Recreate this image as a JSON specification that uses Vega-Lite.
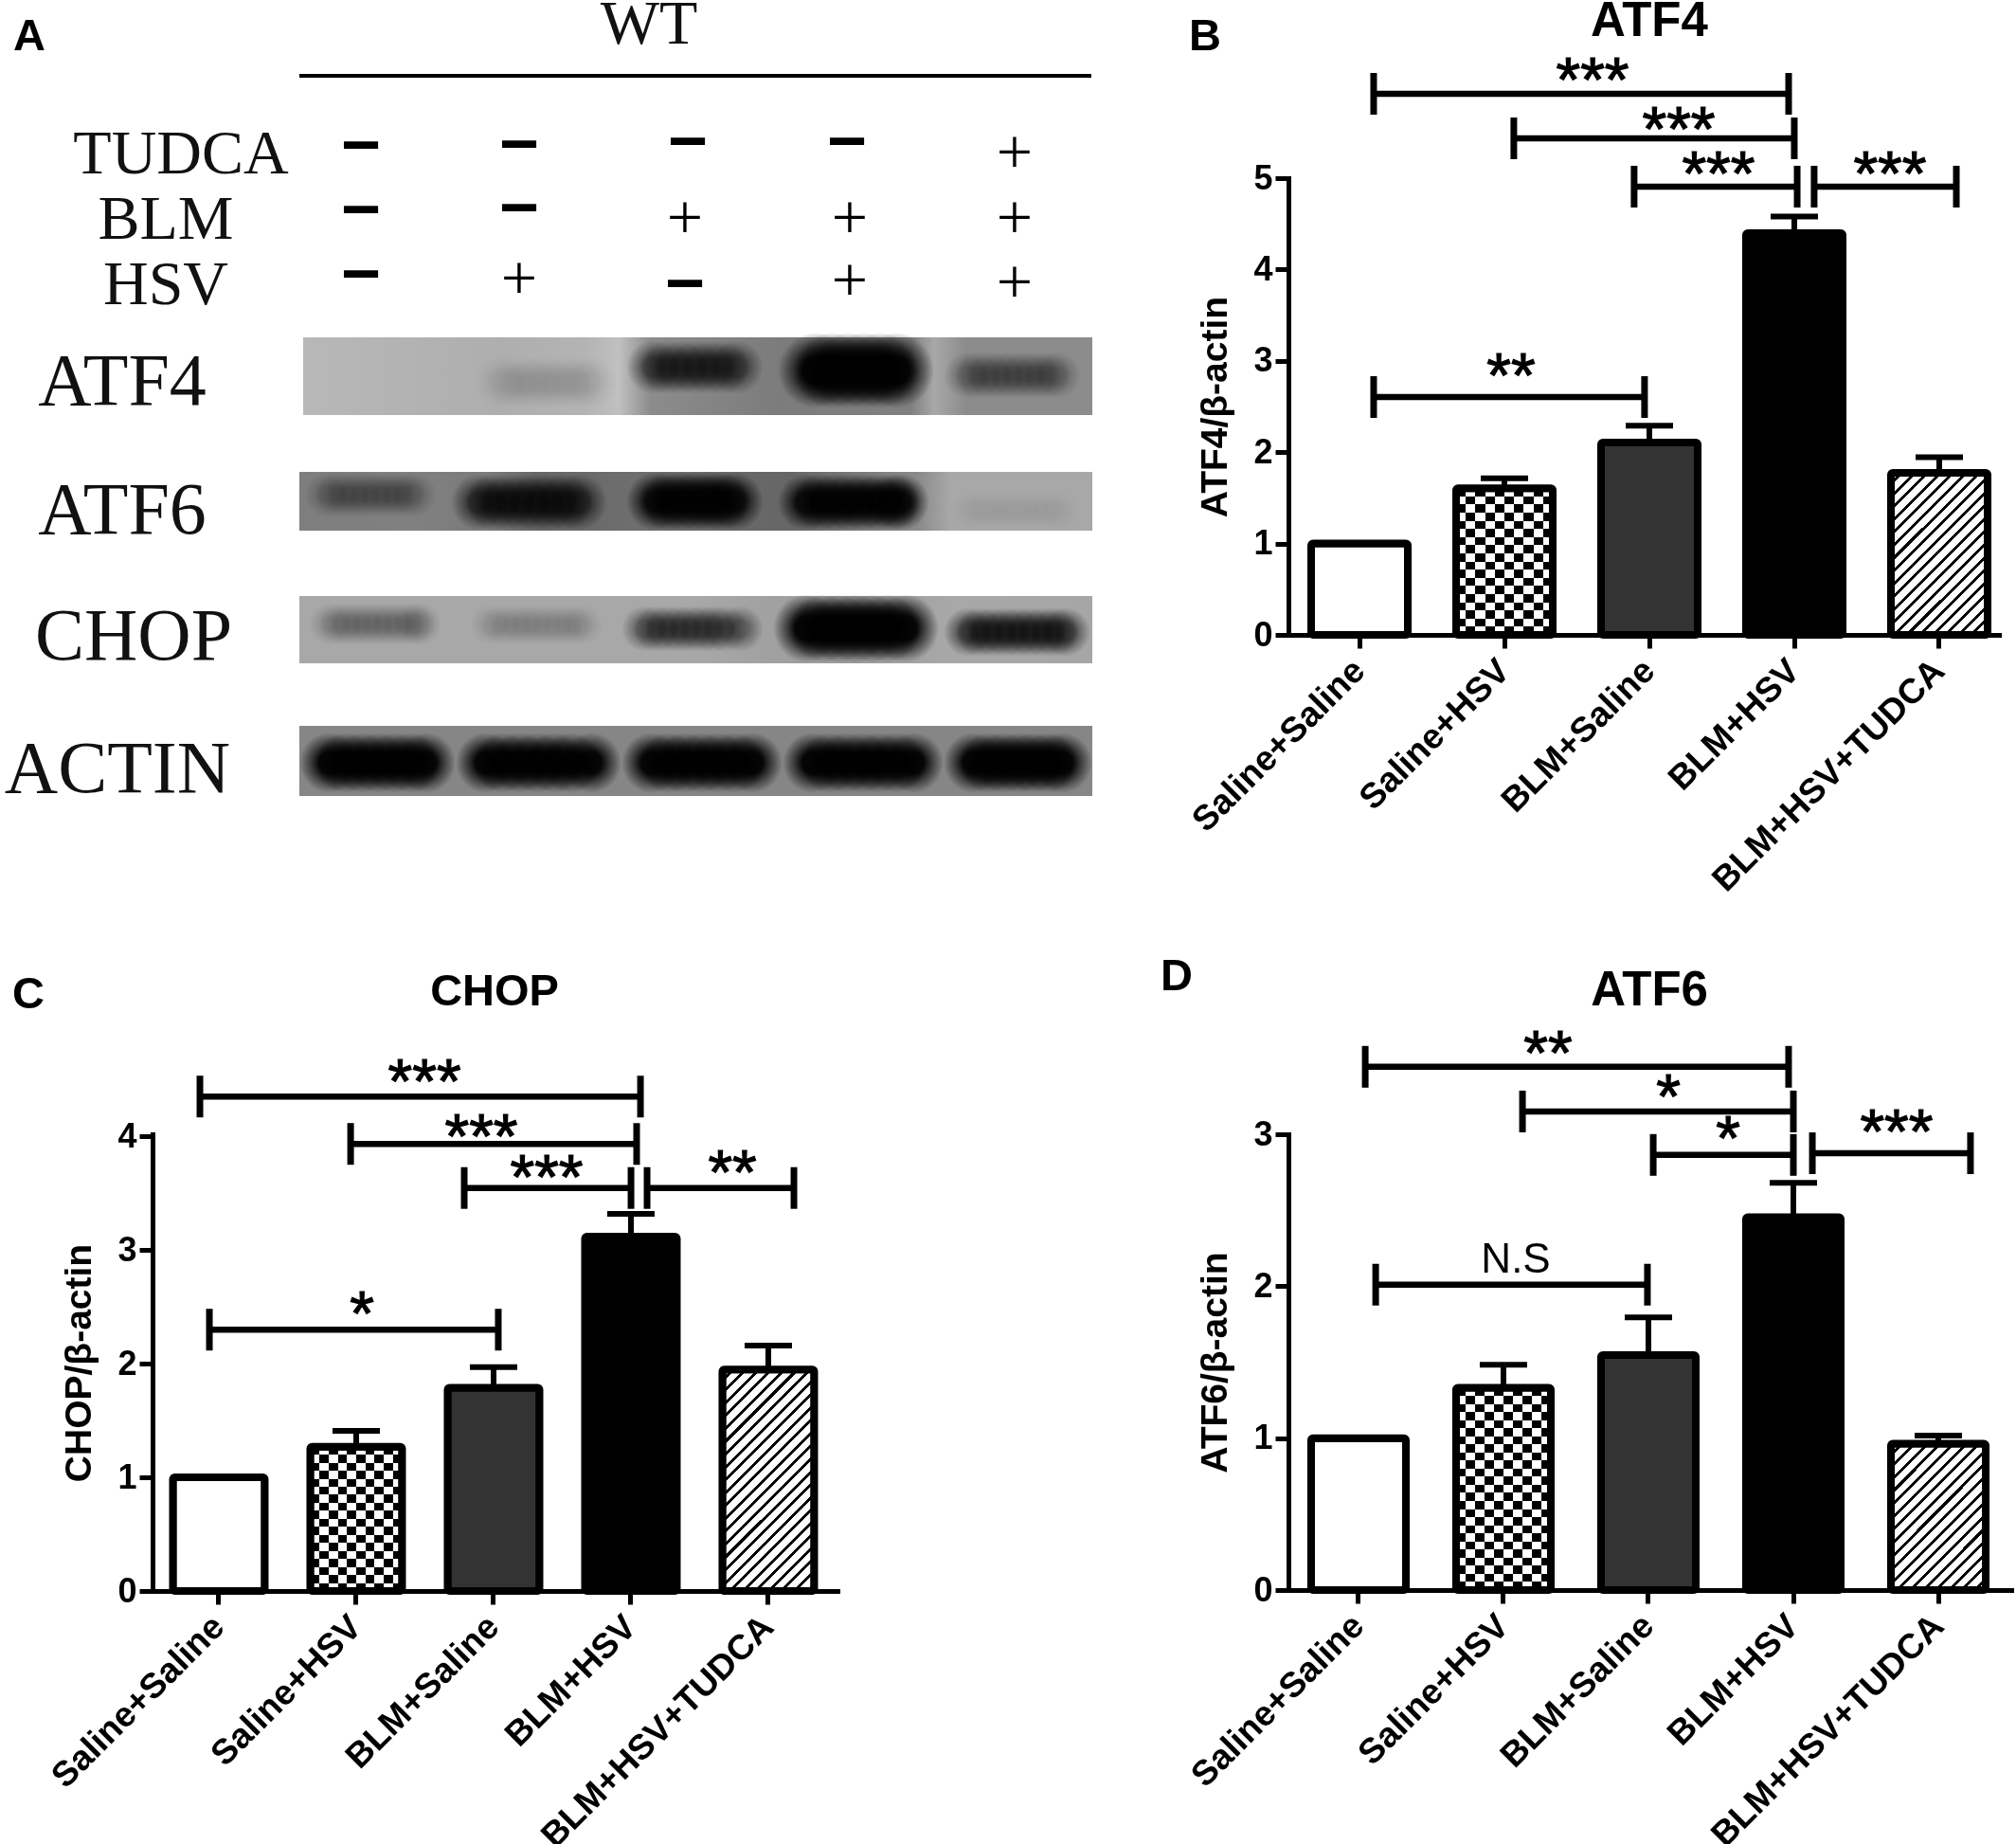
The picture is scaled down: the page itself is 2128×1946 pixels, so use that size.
{"$schema":"https://vega.github.io/schema/vega-lite/v6.json","background":"white","padding":{"left":4,"top":-7,"right":0,"bottom":0},"bounds":"flush","columns":2,"spacing":{"row":527,"column":0},
"config":{"view":{"stroke":null},"axis":{"grid":false,"domainColor":"#000","tickColor":"#000","labelColor":"#000","titleColor":"#000","labelFont":"Liberation Sans","titleFont":"Liberation Sans","labelFontWeight":"bold","titleFontWeight":"bold","labelFontSize":36,"titleFontSize":39,"domainWidth":5,"tickWidth":5,"tickSize":14,"domainCap":"square"}},
"datasets":{
"blot_bg":[{"strip":"ATF4","x1":1.59,"x2":9.92,"y1":1.68,"y2":2.5},{"strip":"ATF6","x1":1.55,"x2":9.92,"y1":3.1,"y2":3.72},{"strip":"CHOP","x1":1.55,"x2":9.92,"y1":4.41,"y2":5.12},{"strip":"ACTIN","x1":1.55,"x2":9.92,"y1":5.78,"y2":6.52}],
"blot_bands":[
{"y":2.155,"thick":0.55,"level":0.07,"xs":[3.675,3.81,3.95,4.08,4.22,4.35,4.49,4.625]},
{"y":1.995,"thick":0.57,"level":0.5,"xs":[5.285,5.43,5.58,5.725,5.87,6.02,6.165]},
{"y":2.03,"thick":0.8,"level":0.95,"xs":[7.0,7.17,7.34,7.51,7.68,7.85]},
{"y":2.08,"thick":0.5,"level":0.25,"xs":[8.6,8.72,8.84,8.96,9.08,9.2,9.32,9.44,9.55]},
{"y":3.34,"thick":0.48,"level":0.2,"xs":[1.84,1.955,2.07,2.185,2.3,2.415,2.53,2.645,2.76]},
{"y":3.42,"thick":0.6,"level":0.6,"xs":[3.45,3.6,3.75,3.9,4.05,4.2,4.35,4.5]},
{"y":3.41,"thick":0.62,"level":0.85,"xs":[5.31,5.45,5.59,5.73,5.87,6.0,6.14]},
{"y":3.42,"thick":0.6,"level":0.85,"xs":[6.9,7.05,7.2,7.35,7.5,7.65,7.8,7.9]},
{"y":3.51,"thick":0.42,"level":0.03,"xs":[8.61,8.72,8.83,8.94,9.05,9.16,9.27,9.38,9.49,9.59]},
{"y":4.705,"thick":0.45,"level":0.17,"xs":[1.875,1.99,2.1,2.21,2.32,2.43,2.54,2.65,2.76,2.825]},
{"y":4.715,"thick":0.43,"level":0.1,"xs":[3.565,3.68,3.79,3.9,4.0,4.11,4.22,4.33,4.44,4.535]},
{"y":4.755,"thick":0.49,"level":0.4,"xs":[5.195,5.32,5.44,5.56,5.68,5.8,5.92,6.04,6.205]},
{"y":4.75,"thick":0.72,"level":0.95,"xs":[6.91,7.08,7.25,7.42,7.59,7.76,7.94]},
{"y":4.79,"thick":0.52,"level":0.55,"xs":[8.61,8.74,8.87,9.0,9.13,9.26,9.39,9.52,9.64]},
{"y":6.17,"thick":0.64,"level":0.95,"xs":[1.87,2.04,2.21,2.38,2.55,2.72,2.88]},
{"y":6.17,"thick":0.64,"level":0.95,"xs":[3.52,3.7,3.88,4.06,4.24,4.42,4.63]},
{"y":6.17,"thick":0.64,"level":0.95,"xs":[5.27,5.45,5.62,5.8,5.97,6.15,6.33]},
{"y":6.17,"thick":0.64,"level":0.95,"xs":[6.97,7.15,7.32,7.5,7.67,7.85,8.03]},
{"y":6.17,"thick":0.64,"level":0.95,"xs":[8.67,8.83,8.98,9.14,9.29,9.45,9.6]}],
"blot_signs":[{"sign":"−","x":2.2,"y":-0.33},{"sign":"−","x":3.87,"y":-0.34},{"sign":"−","x":5.65,"y":-0.37},{"sign":"−","x":7.33,"y":-0.37},{"sign":"+","x":9.1,"y":-0.25},
{"sign":"−","x":2.2,"y":0.35},{"sign":"−","x":3.87,"y":0.33},{"sign":"+","x":5.62,"y":0.44},{"sign":"+","x":7.36,"y":0.44},{"sign":"+","x":9.1,"y":0.44},
{"sign":"−","x":2.2,"y":1.03},{"sign":"+","x":3.87,"y":1.08},{"sign":"−","x":5.62,"y":1.13},{"sign":"+","x":7.36,"y":1.1},{"sign":"+","x":9.1,"y":1.12}],
"blot_treatments":[{"label":"WT","x":5.24,"y":-1.42},{"label":"TUDCA","x":0.3,"y":-0.05},{"label":"BLM","x":0.14,"y":0.64},{"label":"HSV","x":0.14,"y":1.33}],
"blot_proteins":[{"label":"ATF4","x":-0.32,"y":2.39},{"label":"ATF6","x":-0.32,"y":3.75},{"label":"CHOP","x":-0.2,"y":5.08},{"label":"ACTIN","x":-0.37,"y":6.48}],
"atf4_bars":[{"group":"Saline+Saline","value":1},{"group":"Saline+HSV","value":1.606,"upper":1.713},{"group":"BLM+Saline","value":2.106,"upper":2.29},{"group":"BLM+HSV","value":4.398,"upper":4.58},{"group":"BLM+HSV+TUDCA","value":1.773,"upper":1.944}],
"chop_bars":[{"group":"Saline+Saline","value":1},{"group":"Saline+HSV","value":1.27,"upper":1.41},{"group":"BLM+Saline","value":1.79,"upper":1.97},{"group":"BLM+HSV","value":3.12,"upper":3.32},{"group":"BLM+HSV+TUDCA","value":1.95,"upper":2.16}],
"atf6_bars":[{"group":"Saline+Saline","value":1},{"group":"Saline+HSV","value":1.332,"upper":1.483},{"group":"BLM+Saline","value":1.547,"upper":1.795},{"group":"BLM+HSV","value":2.454,"upper":2.68},{"group":"BLM+HSV+TUDCA","value":0.963,"upper":1.016}],
"atf4_brackets":[{"x1":0.098,"x2":2.961,"y":5.923,"label":"***","lx":1.608,"ly":6.11},{"x1":1.065,"x2":3.0,"y":5.436,"label":"***","lx":2.203,"ly":5.57},{"x1":1.895,"x2":3.02,"y":4.907,"label":"***","lx":2.477,"ly":5.083},{"x1":3.137,"x2":4.118,"y":4.907,"label":"***","lx":3.66,"ly":5.083},{"x1":0.098,"x2":1.967,"y":2.604,"label":"**","lx":1.046,"ly":2.873}],
"chop_brackets":[{"x1":-0.138,"x2":3.069,"y":4.352,"label":"***","lx":1.497,"ly":4.513},{"x1":0.959,"x2":3.041,"y":3.935,"label":"***","lx":1.91,"ly":4.025},{"x1":1.786,"x2":3.0,"y":3.547,"label":"***","lx":2.386,"ly":3.673},{"x1":3.117,"x2":4.186,"y":3.547,"label":"**","lx":3.738,"ly":3.708},{"x1":-0.069,"x2":2.034,"y":2.3,"label":"*","lx":1.041,"ly":2.465}],
"atf6_brackets":[{"x1":0.046,"x2":2.967,"y":3.444,"label":"**","lx":1.307,"ly":3.553},{"x1":1.131,"x2":3.0,"y":3.15,"label":"*","lx":2.137,"ly":3.27},{"x1":2.033,"x2":3.0,"y":2.864,"label":"*","lx":2.549,"ly":2.992},{"x1":3.131,"x2":4.222,"y":2.875,"label":"***","lx":3.712,"ly":3.037},{"x1":0.118,"x2":1.993,"y":2.01}],
"atf6_ns":[{"label":"N.S","lx":1.085,"ly":2.17}]
},
"concat":[
{"width":1199,"height":482,"layer":[
{"data":{"name":"blot_bg"},"transform":[{"filter":"datum.strip === 'ATF4'"}],"mark":{"type":"rect","color":{"gradient":"linear","x1":0,"y1":0,"x2":1,"y2":0,"stops":[{"offset":0,"color":"#b8b8b8"},{"offset":0.25,"color":"#aeaeae"},{"offset":0.36,"color":"#b4b4b4"},{"offset":0.4,"color":"#c0c0c0"},{"offset":0.44,"color":"#8c8c8c"},{"offset":0.6,"color":"#7c7c7c"},{"offset":0.77,"color":"#808080"},{"offset":0.8,"color":"#a8a8a8"},{"offset":0.84,"color":"#8c8c8c"},{"offset":1,"color":"#8c8c8c"}]}},"encoding":{"x":{"field":"x1","type":"quantitative","scale":{"domain":[0,11.99],"nice":false,"zero":false},"axis":null},"x2":{"field":"x2"},"y":{"field":"y1","type":"quantitative","scale":{"domain":[0,4.82],"nice":false,"zero":false,"reverse":true},"axis":null},"y2":{"field":"y2"}}},
{"data":{"name":"blot_bg"},"transform":[{"filter":"datum.strip === 'ATF6'"}],"mark":{"type":"rect","color":{"gradient":"linear","x1":0,"y1":0,"x2":1,"y2":0,"stops":[{"offset":0,"color":"#7e7e7e"},{"offset":0.15,"color":"#808080"},{"offset":0.24,"color":"#7a7a7a"},{"offset":0.3,"color":"#666666"},{"offset":0.42,"color":"#6e6e6e"},{"offset":0.62,"color":"#666666"},{"offset":0.78,"color":"#8a8a8a"},{"offset":0.82,"color":"#a8a8a8"},{"offset":1,"color":"#a8a8a8"}]}},"encoding":{"x":{"field":"x1","type":"quantitative"},"x2":{"field":"x2"},"y":{"field":"y1","type":"quantitative"},"y2":{"field":"y2"}}},
{"data":{"name":"blot_bg"},"transform":[{"filter":"datum.strip === 'CHOP'"}],"mark":{"type":"rect","color":{"gradient":"linear","x1":0,"y1":0,"x2":1,"y2":0,"stops":[{"offset":0,"color":"#a8a8a8"},{"offset":0.5,"color":"#a8a8a8"},{"offset":0.7,"color":"#999999"},{"offset":0.82,"color":"#a8a8a8"},{"offset":1,"color":"#a6a6a6"}]}},"encoding":{"x":{"field":"x1","type":"quantitative"},"x2":{"field":"x2"},"y":{"field":"y1","type":"quantitative"},"y2":{"field":"y2"}}},
{"data":{"name":"blot_bg"},"transform":[{"filter":"datum.strip === 'ACTIN'"}],"mark":{"type":"rect","color":"#868686"},"encoding":{"x":{"field":"x1","type":"quantitative"},"x2":{"field":"x2"},"y":{"field":"y1","type":"quantitative"},"y2":{"field":"y2"}}},
{"data":{"name":"blot_bands"},"transform":[{"flatten":["xs"],"as":["x"]}],"mark":{"type":"point","shape":"circle","filled":true,"stroke":null,"fill":{"gradient":"radial","x1":0.5,"y1":0.5,"r1":0,"x2":0.5,"y2":0.5,"r2":0.5,"stops":[{"offset":0,"color":"#000"},{"offset":0.35,"color":"#000"},{"offset":1,"color":"rgba(0,0,0,0)"}]}},"encoding":{"x":{"field":"x","type":"quantitative"},"y":{"field":"y","type":"quantitative"},"size":{"field":"thick","type":"quantitative","scale":{"type":"pow","exponent":2,"domain":[0,1],"range":[0,10000]},"legend":null},"opacity":{"field":"level","type":"quantitative","scale":null}}},
{"data":{"values":[{"x1":1.55,"x2":9.91,"y":-1.08}]},"mark":{"type":"rule","color":"#000","strokeWidth":4},"encoding":{"x":{"field":"x1","type":"quantitative"},"x2":{"field":"x2"},"y":{"field":"y","type":"quantitative"}}},
{"data":{"name":"blot_treatments"},"mark":{"type":"text","font":"Liberation Serif","fontSize":66,"color":"#111","align":"center","baseline":"alphabetic"},"encoding":{"x":{"field":"x","type":"quantitative"},"y":{"field":"y","type":"quantitative"},"text":{"field":"label"}}},
{"data":{"name":"blot_proteins"},"mark":{"type":"text","font":"Liberation Serif","fontSize":78,"color":"#111","align":"center","baseline":"alphabetic"},"encoding":{"x":{"field":"x","type":"quantitative"},"y":{"field":"y","type":"quantitative"},"text":{"field":"label"}}},
{"data":{"name":"blot_signs"},"transform":[{"filter":"datum.sign === '+'"}],"mark":{"type":"text","font":"Liberation Serif","fontSize":68,"color":"#000","align":"center","baseline":"middle"},"encoding":{"x":{"field":"x","type":"quantitative"},"y":{"field":"y","type":"quantitative"},"text":{"field":"sign"}}},
{"data":{"name":"blot_signs"},"transform":[{"filter":"datum.sign !== '+'"}],"mark":{"type":"text","font":"Liberation Sans","fontWeight":"bold","fontSize":72,"color":"#000","align":"center","baseline":"middle"},"encoding":{"x":{"field":"x","type":"quantitative"},"y":{"field":"y","type":"quantitative"},"text":{"field":"sign"}}},
{"data":{"values":[{"panel":"A","x":-1.47,"y":-1.35}]},"mark":{"type":"text","font":"Liberation Sans","fontWeight":"bold","fontSize":47,"color":"#000","align":"left","baseline":"alphabetic"},"encoding":{"x":{"field":"x","type":"quantitative"},"y":{"field":"y","type":"quantitative"},"text":{"field":"panel"}}}
]},
{"width":750,"height":482,"resolve":{"scale":{"x":"independent"}},"layer":[
{"data":{"name":"atf4_bars"},"encoding":{"x":{"field":"group","type":"nominal","sort":null,"scale":{"paddingInner":0.333,"paddingOuter":0.1176,"align":0.667},"axis":{"title":null,"labelAngle":-45,"labelAlign":"right","labelBaseline":"middle","labelPadding":18,"labelLimit":0,"labelOverlap":false,"labelFontSize":37}},"y":{"field":"value","type":"quantitative","scale":{"domain":[0,5],"nice":false},"axis":{"title":"ATF4/β-actin","values":[0,1,2,3,4,5],"format":"d","labelPadding":3,"titlePadding":20}}},"layer":[
{"mark":{"type":"bar","cornerRadius":1},"encoding":{"fill":{"field":"group","type":"nominal","scale":{"domain":["Saline+Saline","Saline+HSV","BLM+Saline","BLM+HSV","BLM+HSV+TUDCA"],"range":["#ffffff","#ffffff","#333333","#000000","#ffffff"]},"legend":null}}},
{"transform":[{"filter":"datum.group === 'Saline+HSV'"}],"mark":{"type":"bar","color":{"gradient":"linear","x1":0,"y1":0,"x2":1,"y2":0,"stops":[{"offset":0,"color":"#fff"},{"offset":0.1,"color":"#fff"},{"offset":0.1,"color":"#000"},{"offset":0.2,"color":"#000"},{"offset":0.2,"color":"#fff"},{"offset":0.3,"color":"#fff"},{"offset":0.3,"color":"#000"},{"offset":0.4,"color":"#000"},{"offset":0.4,"color":"#fff"},{"offset":0.5,"color":"#fff"},{"offset":0.5,"color":"#000"},{"offset":0.6,"color":"#000"},{"offset":0.6,"color":"#fff"},{"offset":0.7,"color":"#fff"},{"offset":0.7,"color":"#000"},{"offset":0.8,"color":"#000"},{"offset":0.8,"color":"#fff"},{"offset":0.9,"color":"#fff"},{"offset":0.9,"color":"#000"},{"offset":1,"color":"#000"}]}}},
{"transform":[{"filter":"datum.group === 'Saline+HSV'"}],"mark":{"type":"bar","blend":"difference","color":{"gradient":"linear","x1":0,"y1":0,"x2":0,"y2":1,"stops":[{"offset":0,"color":"#fff"},{"offset":0.0556,"color":"#fff"},{"offset":0.0556,"color":"#000"},{"offset":0.1111,"color":"#000"},{"offset":0.1111,"color":"#fff"},{"offset":0.1667,"color":"#fff"},{"offset":0.1667,"color":"#000"},{"offset":0.2222,"color":"#000"},{"offset":0.2222,"color":"#fff"},{"offset":0.2778,"color":"#fff"},{"offset":0.2778,"color":"#000"},{"offset":0.3333,"color":"#000"},{"offset":0.3333,"color":"#fff"},{"offset":0.3889,"color":"#fff"},{"offset":0.3889,"color":"#000"},{"offset":0.4444,"color":"#000"},{"offset":0.4444,"color":"#fff"},{"offset":0.5,"color":"#fff"},{"offset":0.5,"color":"#000"},{"offset":0.5556,"color":"#000"},{"offset":0.5556,"color":"#fff"},{"offset":0.6111,"color":"#fff"},{"offset":0.6111,"color":"#000"},{"offset":0.6667,"color":"#000"},{"offset":0.6667,"color":"#fff"},{"offset":0.7222,"color":"#fff"},{"offset":0.7222,"color":"#000"},{"offset":0.7778,"color":"#000"},{"offset":0.7778,"color":"#fff"},{"offset":0.8333,"color":"#fff"},{"offset":0.8333,"color":"#000"},{"offset":0.8889,"color":"#000"},{"offset":0.8889,"color":"#fff"},{"offset":0.9444,"color":"#fff"},{"offset":0.9444,"color":"#000"},{"offset":1,"color":"#000"}]}}},
{"transform":[{"filter":"datum.group === 'BLM+HSV+TUDCA'"}],"mark":{"type":"bar","color":{"gradient":"linear","x1":0,"y1":0,"x2":0.873,"y2":1.464,"stops":[{"offset":0,"color":"#fff"},{"offset":0.028,"color":"#fff"},{"offset":0.028,"color":"#000"},{"offset":0.04,"color":"#000"},{"offset":0.04,"color":"#fff"},{"offset":0.068,"color":"#fff"},{"offset":0.068,"color":"#000"},{"offset":0.08,"color":"#000"},{"offset":0.08,"color":"#fff"},{"offset":0.108,"color":"#fff"},{"offset":0.108,"color":"#000"},{"offset":0.12,"color":"#000"},{"offset":0.12,"color":"#fff"},{"offset":0.148,"color":"#fff"},{"offset":0.148,"color":"#000"},{"offset":0.16,"color":"#000"},{"offset":0.16,"color":"#fff"},{"offset":0.188,"color":"#fff"},{"offset":0.188,"color":"#000"},{"offset":0.2,"color":"#000"},{"offset":0.2,"color":"#fff"},{"offset":0.228,"color":"#fff"},{"offset":0.228,"color":"#000"},{"offset":0.24,"color":"#000"},{"offset":0.24,"color":"#fff"},{"offset":0.268,"color":"#fff"},{"offset":0.268,"color":"#000"},{"offset":0.28,"color":"#000"},{"offset":0.28,"color":"#fff"},{"offset":0.308,"color":"#fff"},{"offset":0.308,"color":"#000"},{"offset":0.32,"color":"#000"},{"offset":0.32,"color":"#fff"},{"offset":0.348,"color":"#fff"},{"offset":0.348,"color":"#000"},{"offset":0.36,"color":"#000"},{"offset":0.36,"color":"#fff"},{"offset":0.388,"color":"#fff"},{"offset":0.388,"color":"#000"},{"offset":0.4,"color":"#000"},{"offset":0.4,"color":"#fff"},{"offset":0.428,"color":"#fff"},{"offset":0.428,"color":"#000"},{"offset":0.44,"color":"#000"},{"offset":0.44,"color":"#fff"},{"offset":0.468,"color":"#fff"},{"offset":0.468,"color":"#000"},{"offset":0.48,"color":"#000"},{"offset":0.48,"color":"#fff"},{"offset":0.508,"color":"#fff"},{"offset":0.508,"color":"#000"},{"offset":0.52,"color":"#000"},{"offset":0.52,"color":"#fff"},{"offset":0.548,"color":"#fff"},{"offset":0.548,"color":"#000"},{"offset":0.56,"color":"#000"},{"offset":0.56,"color":"#fff"},{"offset":0.588,"color":"#fff"},{"offset":0.588,"color":"#000"},{"offset":0.6,"color":"#000"},{"offset":0.6,"color":"#fff"},{"offset":0.628,"color":"#fff"},{"offset":0.628,"color":"#000"},{"offset":0.64,"color":"#000"},{"offset":0.64,"color":"#fff"},{"offset":0.668,"color":"#fff"},{"offset":0.668,"color":"#000"},{"offset":0.68,"color":"#000"},{"offset":0.68,"color":"#fff"},{"offset":0.708,"color":"#fff"},{"offset":0.708,"color":"#000"},{"offset":0.72,"color":"#000"},{"offset":0.72,"color":"#fff"},{"offset":0.748,"color":"#fff"},{"offset":0.748,"color":"#000"},{"offset":0.76,"color":"#000"},{"offset":0.76,"color":"#fff"},{"offset":0.788,"color":"#fff"},{"offset":0.788,"color":"#000"},{"offset":0.8,"color":"#000"},{"offset":0.8,"color":"#fff"},{"offset":1,"color":"#fff"}]}}},
{"mark":{"type":"bar","fillOpacity":0,"stroke":"#000","strokeWidth":8,"cornerRadius":2}},
{"transform":[{"filter":"datum.upper != null"}],"mark":{"type":"rule","color":"#000","strokeWidth":6},"encoding":{"y":{"field":"value","type":"quantitative"},"y2":{"field":"upper"}}},
{"transform":[{"filter":"datum.upper != null"}],"mark":{"type":"tick","orient":"horizontal","color":"#000","size":50,"thickness":6,"opacity":1},"encoding":{"y":{"field":"upper","type":"quantitative"}}}
]},
{"layer":[
{"data":{"name":"atf4_brackets"},"mark":{"type":"rule","color":"#000","strokeWidth":6.5},"encoding":{"x":{"field":"x1","type":"quantitative","scale":{"domain":[-0.49,4.412],"nice":false,"zero":false},"axis":null},"x2":{"field":"x2"},"y":{"field":"y","type":"quantitative"}}},
{"data":{"name":"atf4_brackets"},"mark":{"type":"tick","orient":"vertical","color":"#000","size":44,"thickness":7,"opacity":1},"encoding":{"x":{"field":"x1","type":"quantitative"},"y":{"field":"y","type":"quantitative"}}},
{"data":{"name":"atf4_brackets"},"mark":{"type":"tick","orient":"vertical","color":"#000","size":44,"thickness":7,"opacity":1},"encoding":{"x":{"field":"x2","type":"quantitative"},"y":{"field":"y","type":"quantitative"}}},
{"data":{"name":"atf4_brackets"},"mark":{"type":"text","font":"Liberation Sans","fontSize":66,"color":"#000","stroke":"#000","strokeWidth":1.2,"align":"center","baseline":"alphabetic","dy":26},"encoding":{"x":{"field":"lx","type":"quantitative"},"y":{"field":"ly","type":"quantitative"},"text":{"field":"label"}}},
{"data":{"values":[{"panel":"B","x":-1.176,"y":6.4}]},"mark":{"type":"text","font":"Liberation Sans","fontWeight":"bold","fontSize":47,"color":"#000","align":"left","baseline":"alphabetic"},"encoding":{"x":{"field":"x","type":"quantitative"},"y":{"field":"y","type":"quantitative"},"text":{"field":"panel"}}},
{"data":{"values":[{"name":"ATF4","x":2.0,"y":6.556}]},"mark":{"type":"text","font":"Liberation Sans","fontWeight":"bold","fontSize":51,"color":"#000","align":"center","baseline":"alphabetic"},"encoding":{"x":{"field":"x","type":"quantitative"},"y":{"field":"y","type":"quantitative"},"text":{"field":"name"}}}
]}
]},
{"width":723,"height":482,"resolve":{"scale":{"x":"independent"}},"layer":[
{"data":{"name":"chop_bars"},"encoding":{"x":{"field":"group","type":"nominal","sort":null,"scale":{"paddingInner":0.331,"paddingOuter":0.1586,"align":0.467},"axis":{"title":null,"labelAngle":-45,"labelAlign":"right","labelBaseline":"middle","labelPadding":18,"labelLimit":0,"labelOverlap":false,"labelFontSize":37}},"y":{"field":"value","type":"quantitative","scale":{"domain":[0,4.02],"nice":false},"axis":{"title":"CHOP/β-actin","values":[0,1,2,3,4],"format":"d","labelPadding":3,"titlePadding":20}}},"layer":[
{"mark":{"type":"bar","cornerRadius":1},"encoding":{"fill":{"field":"group","type":"nominal","scale":{"domain":["Saline+Saline","Saline+HSV","BLM+Saline","BLM+HSV","BLM+HSV+TUDCA"],"range":["#ffffff","#ffffff","#333333","#000000","#ffffff"]},"legend":null}}},
{"transform":[{"filter":"datum.group === 'Saline+HSV'"}],"mark":{"type":"bar","color":{"gradient":"linear","x1":0,"y1":0,"x2":1,"y2":0,"stops":[{"offset":0,"color":"#fff"},{"offset":0.1,"color":"#fff"},{"offset":0.1,"color":"#000"},{"offset":0.2,"color":"#000"},{"offset":0.2,"color":"#fff"},{"offset":0.3,"color":"#fff"},{"offset":0.3,"color":"#000"},{"offset":0.4,"color":"#000"},{"offset":0.4,"color":"#fff"},{"offset":0.5,"color":"#fff"},{"offset":0.5,"color":"#000"},{"offset":0.6,"color":"#000"},{"offset":0.6,"color":"#fff"},{"offset":0.7,"color":"#fff"},{"offset":0.7,"color":"#000"},{"offset":0.8,"color":"#000"},{"offset":0.8,"color":"#fff"},{"offset":0.9,"color":"#fff"},{"offset":0.9,"color":"#000"},{"offset":1,"color":"#000"}]}}},
{"transform":[{"filter":"datum.group === 'Saline+HSV'"}],"mark":{"type":"bar","blend":"difference","color":{"gradient":"linear","x1":0,"y1":0,"x2":0,"y2":1,"stops":[{"offset":0,"color":"#fff"},{"offset":0.0556,"color":"#fff"},{"offset":0.0556,"color":"#000"},{"offset":0.1111,"color":"#000"},{"offset":0.1111,"color":"#fff"},{"offset":0.1667,"color":"#fff"},{"offset":0.1667,"color":"#000"},{"offset":0.2222,"color":"#000"},{"offset":0.2222,"color":"#fff"},{"offset":0.2778,"color":"#fff"},{"offset":0.2778,"color":"#000"},{"offset":0.3333,"color":"#000"},{"offset":0.3333,"color":"#fff"},{"offset":0.3889,"color":"#fff"},{"offset":0.3889,"color":"#000"},{"offset":0.4444,"color":"#000"},{"offset":0.4444,"color":"#fff"},{"offset":0.5,"color":"#fff"},{"offset":0.5,"color":"#000"},{"offset":0.5556,"color":"#000"},{"offset":0.5556,"color":"#fff"},{"offset":0.6111,"color":"#fff"},{"offset":0.6111,"color":"#000"},{"offset":0.6667,"color":"#000"},{"offset":0.6667,"color":"#fff"},{"offset":0.7222,"color":"#fff"},{"offset":0.7222,"color":"#000"},{"offset":0.7778,"color":"#000"},{"offset":0.7778,"color":"#fff"},{"offset":0.8333,"color":"#fff"},{"offset":0.8333,"color":"#000"},{"offset":0.8889,"color":"#000"},{"offset":0.8889,"color":"#fff"},{"offset":0.9444,"color":"#fff"},{"offset":0.9444,"color":"#000"},{"offset":1,"color":"#000"}]}}},
{"transform":[{"filter":"datum.group === 'BLM+HSV+TUDCA'"}],"mark":{"type":"bar","color":{"gradient":"linear","x1":0,"y1":0,"x2":0.513,"y2":1.237,"stops":[{"offset":0,"color":"#fff"},{"offset":0.028,"color":"#fff"},{"offset":0.028,"color":"#000"},{"offset":0.04,"color":"#000"},{"offset":0.04,"color":"#fff"},{"offset":0.068,"color":"#fff"},{"offset":0.068,"color":"#000"},{"offset":0.08,"color":"#000"},{"offset":0.08,"color":"#fff"},{"offset":0.108,"color":"#fff"},{"offset":0.108,"color":"#000"},{"offset":0.12,"color":"#000"},{"offset":0.12,"color":"#fff"},{"offset":0.148,"color":"#fff"},{"offset":0.148,"color":"#000"},{"offset":0.16,"color":"#000"},{"offset":0.16,"color":"#fff"},{"offset":0.188,"color":"#fff"},{"offset":0.188,"color":"#000"},{"offset":0.2,"color":"#000"},{"offset":0.2,"color":"#fff"},{"offset":0.228,"color":"#fff"},{"offset":0.228,"color":"#000"},{"offset":0.24,"color":"#000"},{"offset":0.24,"color":"#fff"},{"offset":0.268,"color":"#fff"},{"offset":0.268,"color":"#000"},{"offset":0.28,"color":"#000"},{"offset":0.28,"color":"#fff"},{"offset":0.308,"color":"#fff"},{"offset":0.308,"color":"#000"},{"offset":0.32,"color":"#000"},{"offset":0.32,"color":"#fff"},{"offset":0.348,"color":"#fff"},{"offset":0.348,"color":"#000"},{"offset":0.36,"color":"#000"},{"offset":0.36,"color":"#fff"},{"offset":0.388,"color":"#fff"},{"offset":0.388,"color":"#000"},{"offset":0.4,"color":"#000"},{"offset":0.4,"color":"#fff"},{"offset":0.428,"color":"#fff"},{"offset":0.428,"color":"#000"},{"offset":0.44,"color":"#000"},{"offset":0.44,"color":"#fff"},{"offset":0.468,"color":"#fff"},{"offset":0.468,"color":"#000"},{"offset":0.48,"color":"#000"},{"offset":0.48,"color":"#fff"},{"offset":0.508,"color":"#fff"},{"offset":0.508,"color":"#000"},{"offset":0.52,"color":"#000"},{"offset":0.52,"color":"#fff"},{"offset":0.548,"color":"#fff"},{"offset":0.548,"color":"#000"},{"offset":0.56,"color":"#000"},{"offset":0.56,"color":"#fff"},{"offset":0.588,"color":"#fff"},{"offset":0.588,"color":"#000"},{"offset":0.6,"color":"#000"},{"offset":0.6,"color":"#fff"},{"offset":0.628,"color":"#fff"},{"offset":0.628,"color":"#000"},{"offset":0.64,"color":"#000"},{"offset":0.64,"color":"#fff"},{"offset":0.668,"color":"#fff"},{"offset":0.668,"color":"#000"},{"offset":0.68,"color":"#000"},{"offset":0.68,"color":"#fff"},{"offset":0.708,"color":"#fff"},{"offset":0.708,"color":"#000"},{"offset":0.72,"color":"#000"},{"offset":0.72,"color":"#fff"},{"offset":0.748,"color":"#fff"},{"offset":0.748,"color":"#000"},{"offset":0.76,"color":"#000"},{"offset":0.76,"color":"#fff"},{"offset":0.788,"color":"#fff"},{"offset":0.788,"color":"#000"},{"offset":0.8,"color":"#000"},{"offset":0.8,"color":"#fff"},{"offset":0.828,"color":"#fff"},{"offset":0.828,"color":"#000"},{"offset":0.84,"color":"#000"},{"offset":0.84,"color":"#fff"},{"offset":0.868,"color":"#fff"},{"offset":0.868,"color":"#000"},{"offset":0.88,"color":"#000"},{"offset":0.88,"color":"#fff"},{"offset":0.908,"color":"#fff"},{"offset":0.908,"color":"#000"},{"offset":0.92,"color":"#000"},{"offset":0.92,"color":"#fff"},{"offset":0.948,"color":"#fff"},{"offset":0.948,"color":"#000"},{"offset":0.96,"color":"#000"},{"offset":0.96,"color":"#fff"},{"offset":1,"color":"#fff"}]}}},
{"mark":{"type":"bar","fillOpacity":0,"stroke":"#000","strokeWidth":8,"cornerRadius":2}},
{"transform":[{"filter":"datum.upper != null"}],"mark":{"type":"rule","color":"#000","strokeWidth":6},"encoding":{"y":{"field":"value","type":"quantitative"},"y2":{"field":"upper"}}},
{"transform":[{"filter":"datum.upper != null"}],"mark":{"type":"tick","orient":"horizontal","color":"#000","size":50,"thickness":6,"opacity":1},"encoding":{"y":{"field":"upper","type":"quantitative"}}}
]},
{"layer":[
{"data":{"name":"chop_brackets"},"mark":{"type":"rule","color":"#000","strokeWidth":6.5},"encoding":{"x":{"field":"x1","type":"quantitative","scale":{"domain":[-0.483,4.503],"nice":false,"zero":false},"axis":null},"x2":{"field":"x2"},"y":{"field":"y","type":"quantitative"}}},
{"data":{"name":"chop_brackets"},"mark":{"type":"tick","orient":"vertical","color":"#000","size":44,"thickness":7,"opacity":1},"encoding":{"x":{"field":"x1","type":"quantitative"},"y":{"field":"y","type":"quantitative"}}},
{"data":{"name":"chop_brackets"},"mark":{"type":"tick","orient":"vertical","color":"#000","size":44,"thickness":7,"opacity":1},"encoding":{"x":{"field":"x2","type":"quantitative"},"y":{"field":"y","type":"quantitative"}}},
{"data":{"name":"chop_brackets"},"mark":{"type":"text","font":"Liberation Sans","fontSize":66,"color":"#000","stroke":"#000","strokeWidth":1.2,"align":"center","baseline":"alphabetic","dy":26},"encoding":{"x":{"field":"lx","type":"quantitative"},"y":{"field":"ly","type":"quantitative"},"text":{"field":"label"}}},
{"data":{"values":[{"panel":"C","x":-1.503,"y":5.13}]},"mark":{"type":"text","font":"Liberation Sans","fontWeight":"bold","fontSize":47,"color":"#000","align":"left","baseline":"alphabetic"},"encoding":{"x":{"field":"x","type":"quantitative"},"y":{"field":"y","type":"quantitative"},"text":{"field":"panel"}}},
{"data":{"values":[{"name":"CHOP","x":2.007,"y":5.154}]},"mark":{"type":"text","font":"Liberation Sans","fontWeight":"bold","fontSize":47,"color":"#000","align":"center","baseline":"alphabetic"},"encoding":{"x":{"field":"x","type":"quantitative"},"y":{"field":"y","type":"quantitative"},"text":{"field":"name"}}}
]}
]},
{"width":766,"height":481,"resolve":{"scale":{"x":"independent"}},"layer":[
{"data":{"name":"atf6_bars"},"encoding":{"x":{"field":"group","type":"nominal","sort":null,"scale":{"paddingInner":0.346,"paddingOuter":0.176,"align":0.444},"axis":{"title":null,"labelAngle":-45,"labelAlign":"right","labelBaseline":"middle","labelPadding":18,"labelLimit":0,"labelOverlap":false,"labelFontSize":37}},"y":{"field":"value","type":"quantitative","scale":{"domain":[0,3],"nice":false},"axis":{"title":"ATF6/β-actin","values":[0,1,2,3],"format":"d","labelPadding":3,"titlePadding":20}}},"layer":[
{"mark":{"type":"bar","cornerRadius":1},"encoding":{"fill":{"field":"group","type":"nominal","scale":{"domain":["Saline+Saline","Saline+HSV","BLM+Saline","BLM+HSV","BLM+HSV+TUDCA"],"range":["#ffffff","#ffffff","#333333","#000000","#ffffff"]},"legend":null}}},
{"transform":[{"filter":"datum.group === 'Saline+HSV'"}],"mark":{"type":"bar","color":{"gradient":"linear","x1":0,"y1":0,"x2":1,"y2":0,"stops":[{"offset":0,"color":"#fff"},{"offset":0.1,"color":"#fff"},{"offset":0.1,"color":"#000"},{"offset":0.2,"color":"#000"},{"offset":0.2,"color":"#fff"},{"offset":0.3,"color":"#fff"},{"offset":0.3,"color":"#000"},{"offset":0.4,"color":"#000"},{"offset":0.4,"color":"#fff"},{"offset":0.5,"color":"#fff"},{"offset":0.5,"color":"#000"},{"offset":0.6,"color":"#000"},{"offset":0.6,"color":"#fff"},{"offset":0.7,"color":"#fff"},{"offset":0.7,"color":"#000"},{"offset":0.8,"color":"#000"},{"offset":0.8,"color":"#fff"},{"offset":0.9,"color":"#fff"},{"offset":0.9,"color":"#000"},{"offset":1,"color":"#000"}]}}},
{"transform":[{"filter":"datum.group === 'Saline+HSV'"}],"mark":{"type":"bar","blend":"difference","color":{"gradient":"linear","x1":0,"y1":0,"x2":0,"y2":1,"stops":[{"offset":0,"color":"#fff"},{"offset":0.04,"color":"#fff"},{"offset":0.04,"color":"#000"},{"offset":0.08,"color":"#000"},{"offset":0.08,"color":"#fff"},{"offset":0.12,"color":"#fff"},{"offset":0.12,"color":"#000"},{"offset":0.16,"color":"#000"},{"offset":0.16,"color":"#fff"},{"offset":0.2,"color":"#fff"},{"offset":0.2,"color":"#000"},{"offset":0.24,"color":"#000"},{"offset":0.24,"color":"#fff"},{"offset":0.28,"color":"#fff"},{"offset":0.28,"color":"#000"},{"offset":0.32,"color":"#000"},{"offset":0.32,"color":"#fff"},{"offset":0.36,"color":"#fff"},{"offset":0.36,"color":"#000"},{"offset":0.4,"color":"#000"},{"offset":0.4,"color":"#fff"},{"offset":0.44,"color":"#fff"},{"offset":0.44,"color":"#000"},{"offset":0.48,"color":"#000"},{"offset":0.48,"color":"#fff"},{"offset":0.52,"color":"#fff"},{"offset":0.52,"color":"#000"},{"offset":0.56,"color":"#000"},{"offset":0.56,"color":"#fff"},{"offset":0.6,"color":"#fff"},{"offset":0.6,"color":"#000"},{"offset":0.64,"color":"#000"},{"offset":0.64,"color":"#fff"},{"offset":0.68,"color":"#fff"},{"offset":0.68,"color":"#000"},{"offset":0.72,"color":"#000"},{"offset":0.72,"color":"#fff"},{"offset":0.76,"color":"#fff"},{"offset":0.76,"color":"#000"},{"offset":0.8,"color":"#000"},{"offset":0.8,"color":"#fff"},{"offset":0.84,"color":"#fff"},{"offset":0.84,"color":"#000"},{"offset":0.88,"color":"#000"},{"offset":0.88,"color":"#fff"},{"offset":0.92,"color":"#fff"},{"offset":0.92,"color":"#000"},{"offset":0.96,"color":"#000"},{"offset":0.96,"color":"#fff"},{"offset":1,"color":"#fff"}]}}},
{"transform":[{"filter":"datum.group === 'BLM+HSV+TUDCA'"}],"mark":{"type":"bar","color":{"gradient":"linear","x1":0,"y1":0,"x2":1.007,"y2":1.551,"stops":[{"offset":0,"color":"#fff"},{"offset":0.028,"color":"#fff"},{"offset":0.028,"color":"#000"},{"offset":0.04,"color":"#000"},{"offset":0.04,"color":"#fff"},{"offset":0.068,"color":"#fff"},{"offset":0.068,"color":"#000"},{"offset":0.08,"color":"#000"},{"offset":0.08,"color":"#fff"},{"offset":0.108,"color":"#fff"},{"offset":0.108,"color":"#000"},{"offset":0.12,"color":"#000"},{"offset":0.12,"color":"#fff"},{"offset":0.148,"color":"#fff"},{"offset":0.148,"color":"#000"},{"offset":0.16,"color":"#000"},{"offset":0.16,"color":"#fff"},{"offset":0.188,"color":"#fff"},{"offset":0.188,"color":"#000"},{"offset":0.2,"color":"#000"},{"offset":0.2,"color":"#fff"},{"offset":0.228,"color":"#fff"},{"offset":0.228,"color":"#000"},{"offset":0.24,"color":"#000"},{"offset":0.24,"color":"#fff"},{"offset":0.268,"color":"#fff"},{"offset":0.268,"color":"#000"},{"offset":0.28,"color":"#000"},{"offset":0.28,"color":"#fff"},{"offset":0.308,"color":"#fff"},{"offset":0.308,"color":"#000"},{"offset":0.32,"color":"#000"},{"offset":0.32,"color":"#fff"},{"offset":0.348,"color":"#fff"},{"offset":0.348,"color":"#000"},{"offset":0.36,"color":"#000"},{"offset":0.36,"color":"#fff"},{"offset":0.388,"color":"#fff"},{"offset":0.388,"color":"#000"},{"offset":0.4,"color":"#000"},{"offset":0.4,"color":"#fff"},{"offset":0.428,"color":"#fff"},{"offset":0.428,"color":"#000"},{"offset":0.44,"color":"#000"},{"offset":0.44,"color":"#fff"},{"offset":0.468,"color":"#fff"},{"offset":0.468,"color":"#000"},{"offset":0.48,"color":"#000"},{"offset":0.48,"color":"#fff"},{"offset":0.508,"color":"#fff"},{"offset":0.508,"color":"#000"},{"offset":0.52,"color":"#000"},{"offset":0.52,"color":"#fff"},{"offset":0.548,"color":"#fff"},{"offset":0.548,"color":"#000"},{"offset":0.56,"color":"#000"},{"offset":0.56,"color":"#fff"},{"offset":0.588,"color":"#fff"},{"offset":0.588,"color":"#000"},{"offset":0.6,"color":"#000"},{"offset":0.6,"color":"#fff"},{"offset":0.628,"color":"#fff"},{"offset":0.628,"color":"#000"},{"offset":0.64,"color":"#000"},{"offset":0.64,"color":"#fff"},{"offset":0.668,"color":"#fff"},{"offset":0.668,"color":"#000"},{"offset":0.68,"color":"#000"},{"offset":0.68,"color":"#fff"},{"offset":0.708,"color":"#fff"},{"offset":0.708,"color":"#000"},{"offset":0.72,"color":"#000"},{"offset":0.72,"color":"#fff"},{"offset":0.748,"color":"#fff"},{"offset":0.748,"color":"#000"},{"offset":0.76,"color":"#000"},{"offset":0.76,"color":"#fff"},{"offset":1,"color":"#fff"}]}}},
{"mark":{"type":"bar","fillOpacity":0,"stroke":"#000","strokeWidth":8,"cornerRadius":2}},
{"transform":[{"filter":"datum.upper != null"}],"mark":{"type":"rule","color":"#000","strokeWidth":6},"encoding":{"y":{"field":"value","type":"quantitative"},"y2":{"field":"upper"}}},
{"transform":[{"filter":"datum.upper != null"}],"mark":{"type":"tick","orient":"horizontal","color":"#000","size":50,"thickness":6,"opacity":1},"encoding":{"y":{"field":"upper","type":"quantitative"}}}
]},
{"layer":[
{"data":{"name":"atf6_brackets"},"mark":{"type":"rule","color":"#000","strokeWidth":6.5},"encoding":{"x":{"field":"x1","type":"quantitative","scale":{"domain":[-0.484,4.523],"nice":false,"zero":false},"axis":null},"x2":{"field":"x2"},"y":{"field":"y","type":"quantitative"}}},
{"data":{"name":"atf6_brackets"},"mark":{"type":"tick","orient":"vertical","color":"#000","size":44,"thickness":7,"opacity":1},"encoding":{"x":{"field":"x1","type":"quantitative"},"y":{"field":"y","type":"quantitative"}}},
{"data":{"name":"atf6_brackets"},"mark":{"type":"tick","orient":"vertical","color":"#000","size":44,"thickness":7,"opacity":1},"encoding":{"x":{"field":"x2","type":"quantitative"},"y":{"field":"y","type":"quantitative"}}},
{"data":{"name":"atf6_brackets"},"transform":[{"filter":"datum.label != null"}],"mark":{"type":"text","font":"Liberation Sans","fontSize":66,"color":"#000","stroke":"#000","strokeWidth":1.2,"align":"center","baseline":"alphabetic","dy":26},"encoding":{"x":{"field":"lx","type":"quantitative"},"y":{"field":"ly","type":"quantitative"},"text":{"field":"label"}}},
{"data":{"name":"atf6_ns"},"mark":{"type":"text","font":"Liberation Sans","fontSize":44,"color":"#000","align":"center","baseline":"middle"},"encoding":{"x":{"field":"lx","type":"quantitative"},"y":{"field":"ly","type":"quantitative"},"text":{"field":"label"}}},
{"data":{"values":[{"panel":"D","x":-1.366,"y":3.949}]},"mark":{"type":"text","font":"Liberation Sans","fontWeight":"bold","fontSize":47,"color":"#000","align":"left","baseline":"alphabetic"},"encoding":{"x":{"field":"x","type":"quantitative"},"y":{"field":"y","type":"quantitative"},"text":{"field":"panel"}}},
{"data":{"values":[{"name":"ATF6","x":2.007,"y":3.849}]},"mark":{"type":"text","font":"Liberation Sans","fontWeight":"bold","fontSize":51,"color":"#000","align":"center","baseline":"alphabetic"},"encoding":{"x":{"field":"x","type":"quantitative"},"y":{"field":"y","type":"quantitative"},"text":{"field":"name"}}}
]}
]}
]}
